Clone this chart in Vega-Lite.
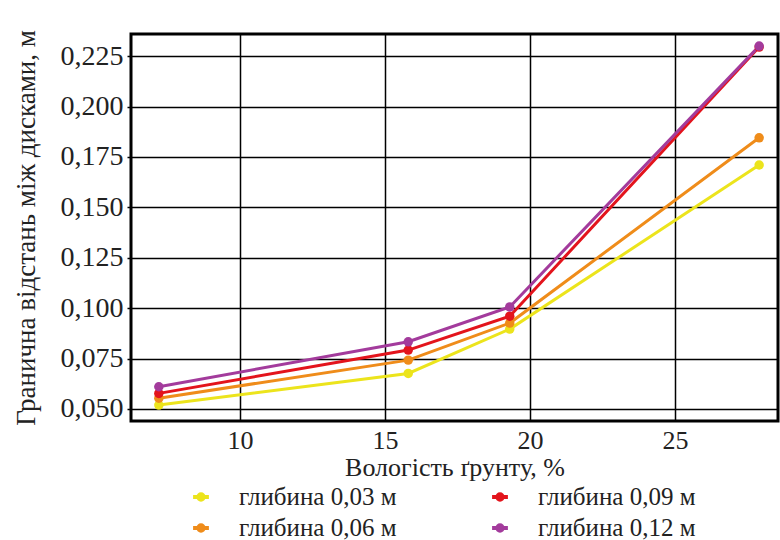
{
  "$schema": "https://vega.github.io/schema/vega-lite/v6.json",
  "width": 647,
  "height": 387,
  "autosize": {"type": "none"},
  "padding": {"left": 131, "top": 34, "right": 2, "bottom": 119},
  "background": "white",
  "config": {
    "view": {"stroke": "black", "strokeWidth": 3},
    "font": "'Liberation Serif', 'Times New Roman', serif",
    "axis": {"labelFont": "'Liberation Serif', 'Times New Roman', serif", "titleFont": "'Liberation Serif', 'Times New Roman', serif"},
    "legend": {"labelFont": "'Liberation Serif', 'Times New Roman', serif"}
  },
  "data": {
    "values": [
      {"w": 7.2, "d": 0.0519, "s": "глибина 0,03 м"},
      {"w": 15.8, "d": 0.0676, "s": "глибина 0,03 м"},
      {"w": 19.3, "d": 0.0896, "s": "глибина 0,03 м"},
      {"w": 27.9, "d": 0.171, "s": "глибина 0,03 м"},
      {"w": 7.2, "d": 0.0553, "s": "глибина 0,06 м"},
      {"w": 15.8, "d": 0.0742, "s": "глибина 0,06 м"},
      {"w": 19.3, "d": 0.0926, "s": "глибина 0,06 м"},
      {"w": 27.9, "d": 0.1845, "s": "глибина 0,06 м"},
      {"w": 7.2, "d": 0.0577, "s": "глибина 0,09 м"},
      {"w": 15.8, "d": 0.0792, "s": "глибина 0,09 м"},
      {"w": 19.3, "d": 0.096, "s": "глибина 0,09 м"},
      {"w": 27.9, "d": 0.2295, "s": "глибина 0,09 м"},
      {"w": 7.2, "d": 0.061, "s": "глибина 0,12 м"},
      {"w": 15.8, "d": 0.0833, "s": "глибина 0,12 м"},
      {"w": 19.3, "d": 0.1006, "s": "глибина 0,12 м"},
      {"w": 27.9, "d": 0.230, "s": "глибина 0,12 м"}
    ]
  },
  "encoding": {
    "x": {
      "field": "w", "type": "quantitative",
      "scale": {"domain": [6.24, 28.55], "nice": false, "zero": false},
      "axis": {
        "title": "Вологість ґрунту, %",
        "values": [10, 15, 20, 25],
        "grid": true, "gridColor": "black", "gridOpacity": 1, "gridWidth": 1.5,
        "domain": false, "ticks": false,
        "labelFontSize": 26, "labelColor": "#222", "labelPadding": 6, "labelFlush": false,
        "titleFontSize": 26, "titleFontWeight": "normal", "titleColor": "#222", "titlePadding": 1
      }
    },
    "y": {
      "field": "d", "type": "quantitative",
      "scale": {"domain": [0.044, 0.236], "nice": false, "zero": false},
      "axis": {
        "title": "Гранична відстань між дисками, м",
        "values": [0.05, 0.075, 0.1, 0.125, 0.15, 0.175, 0.2, 0.225],
        "labelExpr": "replace(format(datum.value, '.3f'), '.', ',')",
        "grid": true, "gridColor": "black", "gridOpacity": 1, "gridWidth": 1.5,
        "domain": false, "ticks": true, "tickColor": "black", "tickSize": 4, "tickWidth": 1.5,
        "labelFontSize": 28, "labelColor": "#222", "labelPadding": 4, "labelFlush": false,
        "titleFontSize": 27, "titleFontWeight": "normal", "titleColor": "#222", "titlePadding": 20
      }
    },
    "color": {
      "field": "s", "type": "nominal",
      "scale": {
        "domain": ["глибина 0,03 м", "глибина 0,09 м", "глибина 0,06 м", "глибина 0,12 м"],
        "range": ["#ece41c", "#e3141c", "#ef8c1a", "#a33b9c"]
      },
      "legend": {
        "title": null,
        "orient": "none",
        "legendX": 52,
        "legendY": 445,
        "direction": "horizontal",
        "columns": 2,
        "columnPadding": 85,
        "rowPadding": -4,
        "symbolType": "M-0.5,0H0.5M-0.17,0A0.17,0.17 0 1,1 0.17,0A0.17,0.17 0 1,1 -0.17,0Z",
        "symbolSize": 1000,
        "symbolStrokeWidth": 4,
        "labelFontSize": 25,
        "labelColor": "#222",
        "labelOffset": 20,
        "labelLimit": 300
      }
    }
  },
  "layer": [
    {"mark": {"type": "line", "strokeWidth": 3}},
    {"mark": {"type": "point", "filled": true, "size": 90, "opacity": 1}}
  ]
}
